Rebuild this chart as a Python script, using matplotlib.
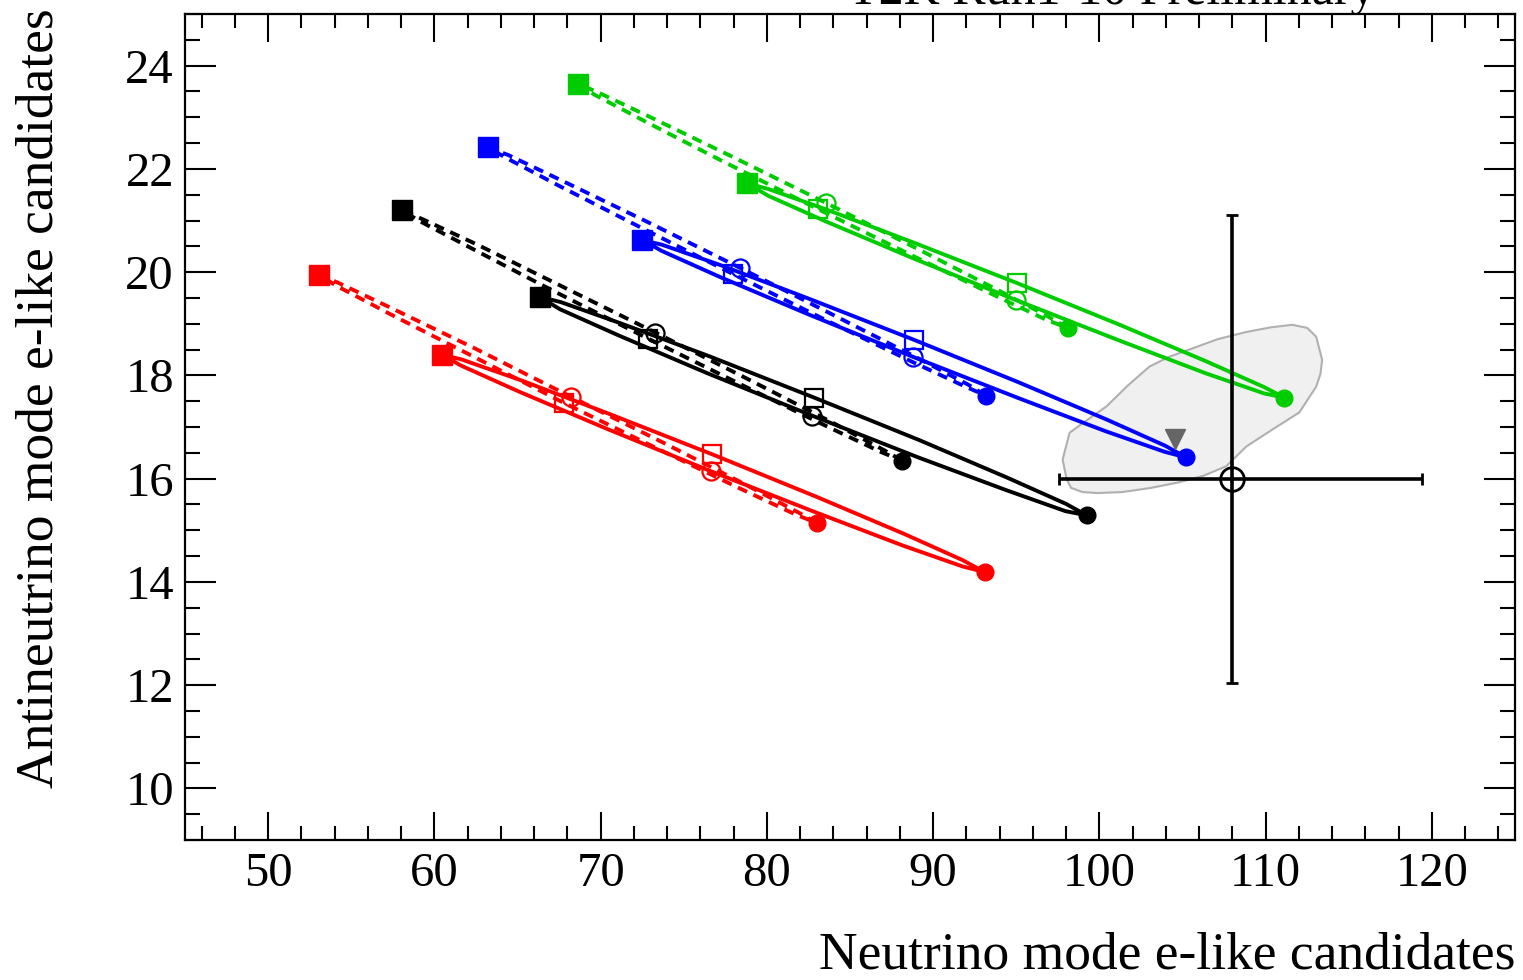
import matplotlib
matplotlib.use("Agg")
import matplotlib.pyplot as plt
from matplotlib.ticker import MultipleLocator

plt.rcParams['font.family'] = ['Liberation Serif', 'DejaVu Serif']

# ── Data ──────────────────────────────────────────────
# loop points, delta_CP from -pi/2 in steps of pi/8
# (index 0: -pi/2, 4: 0, 8: +pi/2, 12: pi)
red_no_x = [93.10, 91.76, 88.21, 82.91, 76.66, 70.41, 65.13, 61.60,
            60.45, 61.62, 65.17, 70.47, 76.72, 82.97, 88.25, 91.78]
red_no_y = [14.19, 14.30, 14.70, 15.35, 16.14, 16.96, 17.68, 18.19,
            18.40, 18.31, 17.91, 17.26, 16.47, 15.65, 14.93, 14.42]
red_io_x = [83.02, 81.92, 78.74, 73.93, 68.19, 62.45, 57.56, 54.24,
            53.06, 54.08, 57.26, 62.07, 67.77, 73.55, 78.44, 81.76]
red_io_y = [15.14, 15.34, 15.88, 16.67, 17.59, 18.52, 19.28, 19.79,
            19.95, 19.74, 19.20, 18.41, 17.47, 16.56, 15.80, 15.30]

black_no_x = [99.23, 97.96, 94.37, 89.03, 82.72, 76.43, 71.11, 67.56,
              66.33, 67.60, 71.19, 76.54, 82.84, 89.14, 94.45, 98.00]
black_no_y = [15.29, 15.37, 15.78, 16.42, 17.22, 18.04, 18.77, 19.28,
              19.52, 19.42, 19.01, 18.37, 17.57, 16.75, 16.02, 15.51]
black_io_x = [88.12, 87.06, 83.86, 79.03, 73.29, 67.51, 62.60, 59.26,
              58.04, 59.10, 62.30, 67.13, 72.87, 78.65, 83.56, 86.90]
black_io_y = [16.35, 16.55, 17.10, 17.90, 18.83, 19.75, 20.53, 21.03,
              21.20, 20.99, 20.45, 19.64, 18.71, 17.79, 17.02, 16.51]

blue_no_x = [105.23, 103.92, 100.36, 95.05, 88.78, 82.51, 77.22, 73.68,
             72.51, 73.70, 77.26, 82.57, 88.84, 95.11, 100.40, 103.94]
blue_no_y = [16.41, 16.52, 16.92, 17.57, 18.36, 19.18, 19.90, 20.41,
             20.62, 20.53, 20.13, 19.48, 18.69, 17.87, 17.15, 16.64]
blue_io_x = [93.17, 92.11, 88.93, 84.12, 78.40, 72.64, 67.75, 64.43,
             63.21, 64.27, 67.45, 72.26, 77.98, 83.74, 88.63, 91.95]
blue_io_y = [17.61, 17.82, 18.36, 19.15, 20.08, 21.00, 21.76, 22.27,
             22.42, 22.22, 21.68, 20.89, 19.96, 19.04, 18.28, 17.78]

green_no_x = [111.12, 109.91, 106.40, 101.16, 94.97, 88.78, 83.56, 80.07,
              78.82, 80.09, 83.60, 88.84, 95.03, 101.22, 106.44, 109.93]
green_no_y = [17.57, 17.65, 18.04, 18.68, 19.46, 20.27, 20.98, 21.48,
              21.72, 21.61, 21.21, 20.57, 19.79, 18.98, 18.27, 17.77]
green_io_x = [98.09, 97.03, 93.91, 89.19, 83.56, 77.89, 73.07, 69.79,
              68.61, 69.61, 72.73, 77.45, 83.08, 88.75, 93.57, 96.85]
green_io_y = [18.92, 19.12, 19.65, 20.43, 21.34, 22.24, 22.99, 23.49,
              23.65, 23.44, 22.91, 22.13, 21.22, 20.32, 19.57, 19.07]

# allowed region (grey contour)
cont_x = [97.79, 98.21, 99.20, 100.43, 101.70, 103.01, 104.20, 105.41, 107.10,
          108.83, 110.30, 111.60, 112.50, 113.04, 113.40, 113.30, 113.04, 112.02,
          110.40, 108.83, 107.63, 106.30, 104.81, 103.10, 101.39, 99.90, 98.99,
          98.30, 98.03]
cont_y = [16.37, 16.89, 17.12, 17.40, 17.80, 18.17, 18.36, 18.50, 18.70,
          18.84, 18.93, 18.98, 18.92, 18.75, 18.30, 18.03, 17.78, 17.28,
          16.95, 16.62, 16.24, 16.06, 15.93, 15.82, 15.74, 15.72, 15.74,
          15.82, 15.99]

best_fit = (104.57, 16.76)

data_x, data_y = 108.0, 16.0
data_xerr = [[10.45], [11.40]]
data_yerr = [[3.96], [5.10]]

loops = [
    ("#ff0000", red_no_x, red_no_y, red_io_x, red_io_y),
    ("#000000", black_no_x, black_no_y, black_io_x, black_io_y),
    ("#0000ff", blue_no_x, blue_no_y, blue_io_x, blue_io_y),
    ("#00cc00", green_no_x, green_no_y, green_io_x, green_io_y),
]

# ── Figure ────────────────────────────────────────────
fig = plt.figure(figsize=(15.23, 9.80), dpi=100)
ax = fig.add_axes([185 / 1523, 1 - 840 / 980, 1330 / 1523, 826 / 980])

ax.fill(cont_x, cont_y, facecolor="#f0f0f0", edgecolor="#b0b0b0", lw=1.5, zorder=1)
ax.plot(*best_fit, marker="v", color="#666666", ms=14, ls="none", zorder=3)

for col, nx, ny, ix, iy in loops:
    ax.plot(nx + nx[:1], ny + ny[:1], color=col, lw=2.8, zorder=2)
    ax.plot(ix + ix[:1], iy + iy[:1], color=col, lw=2.8, ls=(0, (2.6, 1.8)), zorder=2)
    for xs, ys in ((nx, ny), (ix, iy)):
        ax.plot(xs[0], ys[0], "o", color=col, ms=12, zorder=4)
        ax.plot(xs[8], ys[8], "s", color=col, ms=14, zorder=4)
        ax.plot(xs[4], ys[4], "o", mfc="none", mec=col, mew=1.6, ms=13, zorder=4)
        ax.plot(xs[12], ys[12], "s", mfc="none", mec=col, mew=1.6, ms=13, zorder=4)

ax.errorbar(data_x, data_y, xerr=data_xerr, yerr=data_yerr, fmt="o", mfc="none",
            mec="black", mew=2, ms=17, ecolor="black", elinewidth=2.6,
            capsize=4, capthick=2.6, color="black", zorder=5)

ax.set_xlim(45, 125)
ax.set_ylim(9, 25)
ax.xaxis.set_major_locator(MultipleLocator(10))
ax.xaxis.set_minor_locator(MultipleLocator(2))
ax.yaxis.set_major_locator(MultipleLocator(2))
ax.yaxis.set_minor_locator(MultipleLocator(0.5))
ax.tick_params(which="both", direction="in", top=True, right=True, width=1.5,
               labelsize=35)
ax.tick_params(axis="x", which="major", length=20, pad=9)
ax.tick_params(axis="x", which="minor", length=10)
ax.tick_params(axis="y", which="major", length=22, pad=8)
ax.tick_params(axis="y", which="minor", length=11)
for s in ax.spines.values():
    s.set_linewidth(1.6)

fig.text(1515 / 1523, 1 - 968 / 980, "Neutrino mode e-like candidates",
         ha="right", va="baseline", fontsize=38.5)
fig.text(40 / 1523, 1 - 8 / 980, "Antineutrino mode e-like candidates",
         ha="center", va="top", rotation=90, fontsize=38.5)
fig.text(1112 / 1523, 1 - 4 / 980, "T2K Run1-10 Preliminary",
         ha="center", va="baseline", fontsize=36)

fig.savefig("out.png", dpi=100)
